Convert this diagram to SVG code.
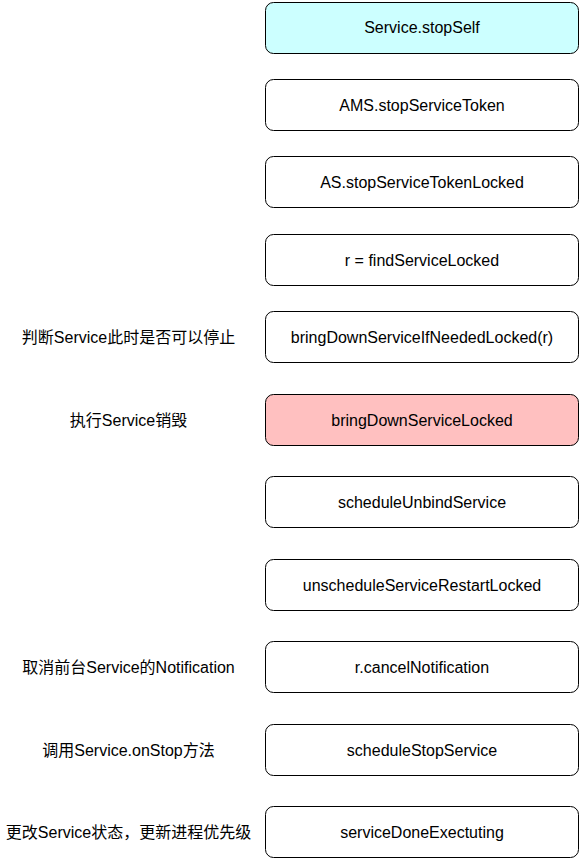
<svg xmlns="http://www.w3.org/2000/svg" width="579" height="859" viewBox="0 0 579 859">
<style>
.box{fill:#ffffff;stroke:#000000;stroke-width:1}
.t{font-family:"Liberation Sans","Noto Sans CJK SC",sans-serif;font-size:16px;fill:#000000;text-anchor:middle;dominant-baseline:central}
</style>
<rect width="579" height="859" fill="#ffffff"/>
<g id="connectors"></g>
<g id="n1"><rect class="box" x="265.5" y="2.5" width="313" height="51" rx="8" style="fill:#CCFFFF"/><text class="t" x="422" y="27.5">Service.stopSelf</text></g>
<g id="n2"><rect class="box" x="265.5" y="79.5" width="313" height="51" rx="8"/><text class="t" x="422" y="105">AMS.stopServiceToken</text></g>
<g id="n3"><rect class="box" x="265.5" y="156.5" width="313" height="51" rx="8"/><text class="t" x="422" y="182">AS.stopServiceTokenLocked</text></g>
<g id="n4"><rect class="box" x="265.5" y="234.5" width="313" height="51" rx="8"/><text class="t" x="422" y="260">r = findServiceLocked</text></g>
<g id="n5"><rect class="box" x="265.5" y="311.5" width="313" height="51" rx="8"/><text class="t" x="422" y="337.5">bringDownServiceIfNeededLocked(r)</text></g>
<g id="n6"><rect class="box" x="265.5" y="394.5" width="313" height="51" rx="8" style="fill:#FFC0C0"/><text class="t" x="422" y="420">bringDownServiceLocked</text></g>
<g id="n7"><rect class="box" x="265.5" y="476.5" width="313" height="51" rx="8"/><text class="t" x="422" y="502">scheduleUnbindService</text></g>
<g id="n8"><rect class="box" x="265.5" y="559.5" width="313" height="51" rx="8"/><text class="t" x="422" y="585">unscheduleServiceRestartLocked</text></g>
<g id="n9"><rect class="box" x="265.5" y="641.5" width="313" height="51" rx="8"/><text class="t" x="422" y="667">r.cancelNotification</text></g>
<g id="n10"><rect class="box" x="265.5" y="724.5" width="313" height="51" rx="8"/><text class="t" x="422" y="750">scheduleStopService</text></g>
<g id="n11"><rect class="box" x="265.5" y="806.5" width="313" height="51" rx="8"/><text class="t" x="422" y="832">serviceDoneExectuting</text></g>
<g id="labels">
<text class="t" x="128.5" y="337.5">判断Service此时是否可以停止</text>
<text class="t" x="128.5" y="420">执行Service销毁</text>
<text class="t" x="128.5" y="667">取消前台Service的Notification</text>
<text class="t" x="128.5" y="750">调用Service.onStop方法</text>
<text class="t" x="128.5" y="832">更改Service状态，更新进程优先级</text>
</g>
</svg>
